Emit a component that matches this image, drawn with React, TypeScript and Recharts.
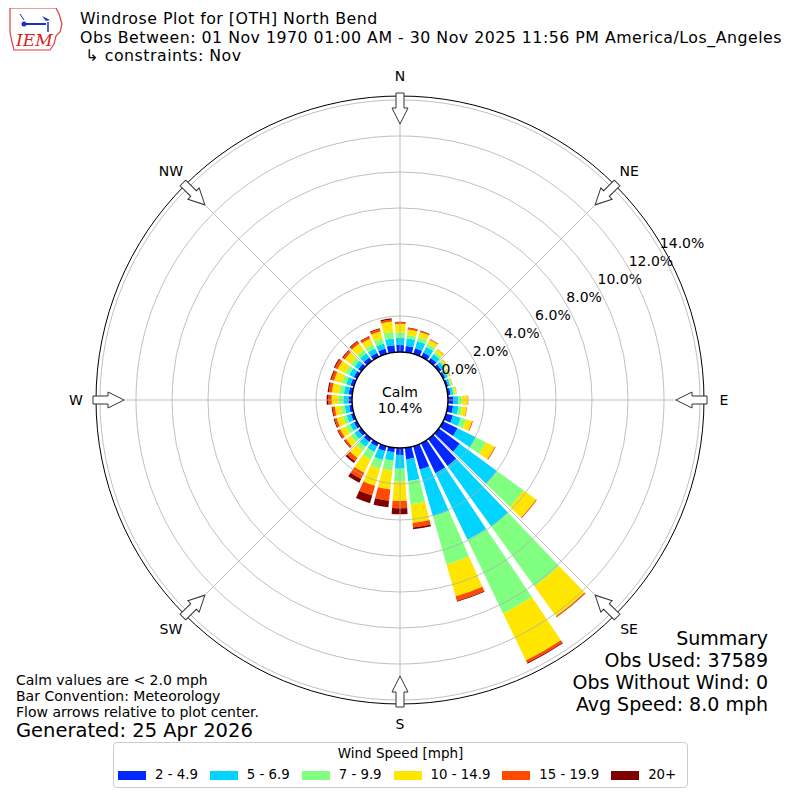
import React from 'react';
import { RadialBarChart, RadialBar, PolarAngleAxis, PolarRadiusAxis, PolarGrid } from 'recharts';

const FONT = "'DejaVu Sans', sans-serif";

// wind direction bins (degrees from north)
const directions = [0, 10, 20, 30, 40, 50, 60, 70, 80, 90, 100, 110, 120, 130, 140, 150, 160, 170,
  180, 190, 200, 210, 220, 230, 240, 250, 260, 270, 280, 290, 300, 310, 320, 330, 340, 350];

// frequency (%) per speed class, one value per direction
const spd2to5 = [0.39, 0.35, 0.33, 0.28, 0.23, 0.18, 0.14, 0.12, 0.15, 0.30, 0.30, 0.40, 0.90, 1.45, 1.85, 1.85, 1.35, 0.65,
  0.39, 0.25, 0.28, 0.22, 0.22, 0.20, 0.18, 0.17, 0.17, 0.20, 0.20, 0.20, 0.20, 0.22, 0.25, 0.25, 0.30, 0.39];
const spd5to7 = [0.40, 0.42, 0.42, 0.35, 0.27, 0.20, 0.14, 0.12, 0.15, 0.28, 0.30, 0.45, 1.13, 2.55, 4.15, 4.10, 2.70, 1.20,
  0.76, 0.47, 0.52, 0.33, 0.33, 0.27, 0.25, 0.25, 0.25, 0.28, 0.27, 0.25, 0.28, 0.25, 0.28, 0.28, 0.30, 0.38];
const spd7to10 = [0.30, 0.20, 0.22, 0.18, 0.14, 0.10, 0.08, 0.07, 0.10, 0.19, 0.20, 0.30, 0.62, 1.85, 4.10, 4.55, 2.78, 1.30,
  0.72, 0.56, 0.51, 0.47, 0.28, 0.25, 0.25, 0.22, 0.22, 0.28, 0.27, 0.25, 0.25, 0.25, 0.25, 0.25, 0.30, 0.38];
const spd10to15 = [0.48, 0.30, 0.30, 0.25, 0.18, 0.10, 0.07, 0.06, 0.09, 0.33, 0.25, 0.35, 0.55, 0.85, 2.05, 2.90, 1.84, 1.05,
  1.07, 1.05, 0.99, 0.81, 0.50, 0.32, 0.35, 0.35, 0.33, 0.37, 0.40, 0.45, 0.47, 0.42, 0.42, 0.35, 0.40, 0.56];
const spd15to20 = [0.08, 0.08, 0.06, 0.04, 0.03, 0.02, 0.02, 0.01, 0.01, 0.03, 0.03, 0.05, 0.04, 0.04, 0.05, 0.15, 0.26, 0.25,
  0.41, 0.64, 0.56, 0.39, 0.22, 0.10, 0.13, 0.13, 0.13, 0.18, 0.17, 0.16, 0.17, 0.13, 0.14, 0.12, 0.13, 0.12];
const spd20plus = [0.03, 0.03, 0.02, 0.01, 0.00, 0.00, 0.00, 0.00, 0.00, 0.00, 0.00, 0.00, 0.01, 0.01, 0.02, 0.05, 0.05, 0.10,
  0.33, 0.36, 0.44, 0.23, 0.12, 0.04, 0.05, 0.05, 0.05, 0.10, 0.07, 0.06, 0.06, 0.05, 0.05, 0.04, 0.05, 0.07];

const speedLabels = ['2 - 4.9', '5 - 6.9', '7 - 9.9', '10 - 14.9', '15 - 19.9', '20+'];
const speedColors = ['#0028ff', '#00d4ff', '#80ff80', '#ffe600', '#ff4a00', '#800000'];
const speedKeys = ['s1', 's2', 's3', 's4', 's5', 's6'];

const pctTicks = [0, 2, 4, 6, 8, 10, 12, 14];
const compassTicks = [0, 45, 90, 135, 180, 225, 270, 315];
const compassLabels = ['N', 'NE', 'E', 'SE', 'S', 'SW', 'W', 'NW'];

const data = directions.map((d, i) => ({
  dir: d,
  s1: spd2to5[i],
  s2: spd5to7[i],
  s3: spd7to10[i],
  s4: spd10to15[i],
  s5: spd15to20[i],
  s6: spd20plus[i],
}));

const CX = 400;
const CY = 400;
const R_IN = 48;
const R_OUT = 304;

function PctTick(props: any) {
  const { x, y, payload } = props;
  return (
    <text x={x} y={y - 2} textAnchor="start" fontSize={14} fontFamily={FONT} fill="#000">
      {Number(payload.value).toFixed(1)}%
    </text>
  );
}

function CompassMarks() {
  return (
    <g>
      {compassTicks.map((t, i) => {
        const a = ((90 - t) * Math.PI) / 180;
        const lx = CX + 324 * Math.cos(a);
        const ly = CY - 324 * Math.sin(a);
        const ax = CX + 307 * Math.cos(a);
        const ay = CY - 307 * Math.sin(a);
        return (
          <g key={t}>
            <g transform={`translate(${ax},${ay}) rotate(${t})`}>
              <polygon points="-4,0 4,0 4,15 8,15 0,31 -8,15 -4,15" fill="#fff" stroke="#333" strokeWidth={1} />
            </g>
            <text x={lx} y={ly} textAnchor="middle" dominantBaseline="central" fontSize={14} fontFamily={FONT} fill="#000">
              {compassLabels[i]}
            </text>
          </g>
        );
      })}
    </g>
  );
}

function Logo() {
  return (
    <svg width={64} height={52} style={{ position: 'absolute', left: 4, top: 2 }}>
      <path d="M6,6 L52,6 L55,12 L58,22 L56,30 L52,34 L50,42 L46,48 L10,48 L8,40 L6,30 Z" fill="#fff" stroke="#d94040" strokeWidth={1.2} />
      <line x1={18} y1={22} x2={42} y2={22} stroke="#1a2fc4" strokeWidth={2} />
      <circle cx={20} cy={22} r={2.5} fill="#1a2fc4" />
      <path d="M38,14 L46,18 L42,19 Z" fill="#1a2fc4" />
      <line x1={44} y1={20} x2={44} y2={30} stroke="#1a2fc4" strokeWidth={1.5} />
      <line x1={16} y1={12} x2={20} y2={18} stroke="#1a2fc4" strokeWidth={1} />
      <text x={12} y={44} fontSize={17} fontStyle="italic" fontFamily="'DejaVu Serif', serif" fill="#d92020">IEM</text>
    </svg>
  );
}

export default function App() {
  return (
    <div style={{ position: 'relative', width: 800, height: 800, margin: '-8px 0 0 -8px', background: '#fff', fontFamily: FONT, color: '#000' }}>
      <div style={{ position: 'absolute', left: 0, top: 0 }}>
        <RadialBarChart
          width={800}
          height={800}
          cx={CX}
          cy={CY}
          innerRadius={R_IN}
          outerRadius={R_OUT}
          startAngle={85}
          endAngle={-275}
          layout="centric"
          data={data}
          barCategoryGap="8%"
          margin={{ top: 0, right: 0, bottom: 0, left: 0 }}
        >
          <PolarAngleAxis
            dataKey="dir"
            type="category"
            tick={false}
            tickLine={false}
            axisLineType="circle"
            axisLine={{ stroke: '#000', strokeWidth: 1 }}
          />
          <PolarRadiusAxis
            type="number"
            domain={[0, 14.22]}
            ticks={pctTicks}
            angle={30}
            axisLine={false}
            tickLine={false}
            tick={<PctTick />}
          />
          {speedKeys.map((k, i) => (
            <RadialBar key={k} dataKey={k} stackId="w" fill={speedColors[i]} isAnimationActive={false} />
          ))}
          <PolarGrid
            gridType="circle"
            polarAngles={compassTicks.map((t) => 90 - t)}
            stroke="#b0b0b0"
            strokeWidth={0.8}
            zIndex={1000}
          />
        </RadialBarChart>
      </div>

      <svg width={800} height={800} style={{ position: 'absolute', left: 0, top: 0, pointerEvents: 'none' }}>
        <circle cx={CX} cy={CY} r={R_IN} fill="#fff" stroke="#000" strokeWidth={1.5} />
        <text x={CX} y={392} textAnchor="middle" dominantBaseline="central" fontSize={14} fontFamily={FONT}>Calm</text>
        <text x={CX} y={408} textAnchor="middle" dominantBaseline="central" fontSize={14} fontFamily={FONT}>10.4%</text>
        <CompassMarks />
      </svg>

      <Logo />

      <div style={{ position: 'absolute', left: 80, top: 10, fontSize: 15.8, letterSpacing: '0.49px', lineHeight: '18.5px', whiteSpace: 'nowrap' }}>
        <div>Windrose Plot for [OTH] North Bend</div>
        <div>Obs Between: 01 Nov 1970 01:00 AM - 30 Nov 2025 11:56 PM America/Los_Angeles</div>
        <div>&nbsp;↳ constraints: Nov</div>
      </div>

      <div style={{ position: 'absolute', right: 32, top: 627, fontSize: 19, lineHeight: '22px', textAlign: 'right', whiteSpace: 'nowrap' }}>
        <div>Summary</div>
        <div>Obs Used: 37589</div>
        <div>Obs Without Wind: 0</div>
        <div>Avg Speed: 8.0 mph</div>
      </div>

      <div style={{ position: 'absolute', left: 16, top: 672, fontSize: 14, lineHeight: '16px', whiteSpace: 'nowrap' }}>
        <div>Calm values are &lt; 2.0 mph</div>
        <div>Bar Convention: Meteorology</div>
        <div>Flow arrows relative to plot center.</div>
        <div style={{ fontSize: 19.5, lineHeight: '22px' }}>Generated: 25 Apr 2026</div>
      </div>

      <div style={{ position: 'absolute', left: 113, top: 742, width: 573, height: 44, border: '1px solid #ccc', borderRadius: 4, background: '#fff' }}>
        <div style={{ textAlign: 'center', fontSize: 13.5, lineHeight: '16px', marginTop: 2 }}>Wind Speed [mph]</div>
        <div style={{ display: 'flex', alignItems: 'center', marginTop: 6, marginLeft: 4, whiteSpace: 'nowrap' }}>
          {speedLabels.map((lab, i) => (
            <div key={lab} style={{ display: 'flex', alignItems: 'center', marginRight: 12, flexShrink: 0 }}>
              <div style={{ width: 28, height: 9, background: speedColors[i], marginRight: 9 }} />
              <span style={{ fontSize: 13.3, lineHeight: '16px' }}>{lab}</span>
            </div>
          ))}
        </div>
      </div>
    </div>
  );
}
